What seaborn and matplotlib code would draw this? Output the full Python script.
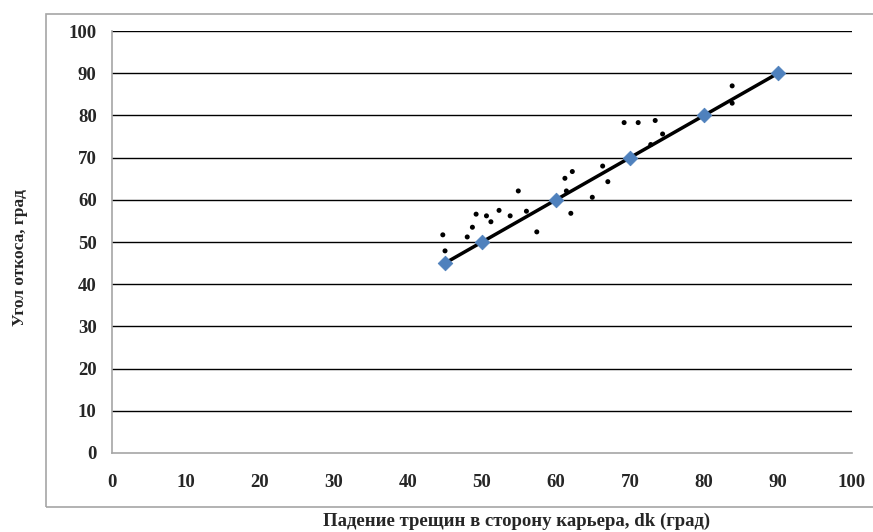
import matplotlib
matplotlib.use("Agg")
import matplotlib.pyplot as plt
import matplotlib.patches as patches
import pandas as pd
import seaborn as sns

# measured points (dip of cracks vs slope angle)
obs_x = [44.7, 45.0, 48.0, 48.7, 49.2, 50.6, 51.2, 52.3, 53.8, 54.9, 56.0, 57.4,
         61.2, 62.2, 61.4, 62.0, 64.9, 67.0, 66.3, 69.2, 71.1, 73.4, 74.4, 72.8,
         83.8, 83.8]
obs_y = [51.7, 47.9, 51.2, 53.5, 56.6, 56.2, 54.8, 57.5, 56.2, 62.1, 57.3, 52.4,
         65.1, 66.7, 62.1, 56.8, 60.6, 64.3, 68.0, 78.3, 78.3, 78.8, 75.6, 73.1,
         87.0, 82.9]

# fitted line with markers
fit_x = [45, 50, 60, 70, 80, 90]
fit_y = [45, 50, 60, 70, 80, 90]

ticks = [0, 10, 20, 30, 40, 50, 60, 70, 80, 90, 100]

obs = pd.DataFrame({"x": obs_x, "y": obs_y})
fit = pd.DataFrame({"x": fit_x, "y": fit_y})

sns.set_style("white")
plt.rcParams['font.family'] = ['Liberation Serif', 'DejaVu Serif']

fig = plt.figure(figsize=(8.73, 5.32), dpi=100)
ax = fig.add_axes([0.1283, 0.1485, 0.8477, 0.7932])

# chart frame (axis titles sit outside of it)
frame = patches.Rectangle((46 / 873, 1 - 507 / 532), 1, (507 - 14) / 532,
                          transform=fig.transFigure, fill=False,
                          edgecolor="#a6a6a6", linewidth=1.2)
fig.patches.append(frame)

for t in ticks[1:]:
    ax.axhline(t, color="black", linewidth=1.0, zorder=1)

sns.scatterplot(data=obs, x="x", y="y", ax=ax, color="black", s=13,
                edgecolor="none", zorder=3)
sns.lineplot(data=fit, x="x", y="y", ax=ax, color="black", linewidth=2.5,
             zorder=4)
sns.scatterplot(data=fit, x="x", y="y", ax=ax, marker="D", color="#4f81bd",
                s=55, edgecolor="#4f81bd", zorder=5)

ax.set_xlim(0, 100)
ax.set_ylim(0, 100)
ax.set_xticks(ticks)
ax.set_yticks(ticks)
ax.tick_params(axis="both", direction="out", length=5, width=1,
               color="#a6a6a6", labelsize=13.5)
ax.tick_params(axis="x", pad=10)
ax.tick_params(axis="y", pad=6)
for lab in ax.get_xticklabels() + ax.get_yticklabels():
    lab.set_fontweight("bold")

for side in ["top", "right"]:
    ax.spines[side].set_visible(False)
for side in ["left", "bottom"]:
    ax.spines[side].set_color("#a6a6a6")
    ax.spines[side].set_linewidth(1.2)

ax.set_xlabel("")
ax.set_ylabel("")
fig.text(517 / 873, 1 - 521 / 532, "Падение трещин в сторону карьера, dk (град)",
         ha="center", va="center", fontsize=13.5, fontweight="bold")
fig.text(20 / 873, 1 - 258 / 532, "Угол откоса, град", rotation=90,
         ha="center", va="center", fontsize=12.5, fontweight="bold")

fig.savefig("out.png", dpi=100)
